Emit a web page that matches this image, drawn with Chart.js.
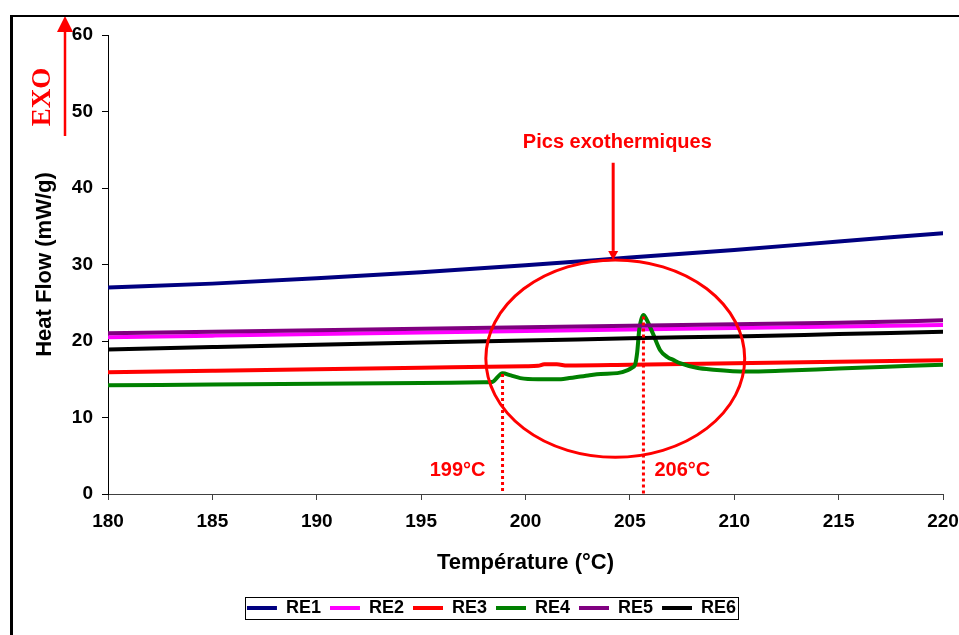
<!DOCTYPE html>
<html>
<head>
<meta charset="utf-8">
<script src="https://cdn.jsdelivr.net/npm/chart.js@4"></script>
<style>
  html, body { margin: 0; padding: 0; background: #fff; }
</style>
</head>
<body>
<canvas id="dscChart" width="959" height="635"></canvas>
<script>
// DSC curves, heat flow (mW/g) vs temperature (°C)
const seriesNames = ['RE1', 'RE2', 'RE3', 'RE4', 'RE5', 'RE6'];
const seriesColors = ['#000080', '#FF00FF', '#FF0000', '#008000', '#800080', '#000000'];

const baseTemps = [180, 185, 190, 195, 200, 205, 210, 215, 220];
const re1 = [27.0, 27.5, 28.2, 29.0, 29.9, 30.9, 31.9, 33.0, 34.1];
const re2 = [20.5, 20.7, 20.9, 21.1, 21.3, 21.5, 21.7, 21.9, 22.1];
const re5 = [21.0, 21.2, 21.4, 21.6, 21.8, 22.0, 22.2, 22.4, 22.7];
const re6 = [18.9, 19.2, 19.5, 19.8, 20.05, 20.35, 20.6, 20.9, 21.2];

const re3Temps = [180, 185, 190, 195, 200, 200.6, 200.9, 201.5, 202, 205, 210, 215, 220];
const re3 = [15.9, 16.1, 16.3, 16.5, 16.7, 16.75, 16.95, 16.95, 16.8, 16.9, 17.1, 17.3, 17.5];

const re4Temps = [180, 185, 190, 195, 198.0, 198.4, 198.9, 199.3, 199.75, 200.6, 201.7, 202.1, 203.0, 203.6,
  204.4, 204.9, 205.1, 205.25, 205.35, 205.45, 205.65, 205.8, 206.1, 206.45, 206.8, 207.1, 207.4, 208.2,
  209.0, 210.6, 212.2, 215, 217, 220];
const re4 = [14.2, 14.3, 14.4, 14.5, 14.6, 14.65, 15.8, 15.5, 15.15, 15.0, 15.0, 15.15, 15.5, 15.7,
  15.8, 16.2, 16.5, 16.9, 18.5, 21.5, 23.4, 22.8, 21.0, 18.8, 17.9, 17.5, 17.1, 16.5,
  16.25, 16.0, 16.1, 16.4, 16.6, 16.9];

// peaks marked on the chart
const peakTemps = [198.9, 205.65];
const peakValues = [15.7, 23.2];
const peakLabels = ['199°C', '206°C'];

const seriesTemps = [baseTemps, baseTemps, re3Temps, re4Temps, baseTemps, baseTemps];
const seriesValues = [re1, re2, re3, re4, re5, re6];

const FONT = "'Liberation Sans', Arial, sans-serif";
const RED = '#FF0000';

function toPoints(xs, ys) {
    return xs.map((x, i) => ({ x: x, y: ys[i] }));
}

const datasets = seriesNames.map((name, i) => ({
    label: name,
    data: toPoints(seriesTemps[i], seriesValues[i]),
    borderColor: seriesColors[i],
    backgroundColor: seriesColors[i],
    borderWidth: 4,
    borderCapStyle: 'round',
    pointRadius: 0,
    cubicInterpolationMode: 'monotone',
    order: seriesNames.length - i
}));

function drawArrow(ctx, x, y1, y2, head, width) {
    // vertical arrow from y1 to tip at y2
    const dir = y2 > y1 ? 1 : -1;
    ctx.beginPath();
    ctx.moveTo(x, y1);
    ctx.lineTo(x, y2 - dir * head);
    ctx.stroke();
    ctx.beginPath();
    ctx.moveTo(x, y2);
    ctx.lineTo(x - width / 2, y2 - dir * head);
    ctx.lineTo(x + width / 2, y2 - dir * head);
    ctx.closePath();
    ctx.fill();
}

const annotationPlugin = {
    id: 'dscNotes',
    afterLayout(chart) {
        // legend sits a little right of centre in the original
        chart.legend.left += 10;
        chart.legend.right += 10;
    },
    afterDatasetsDraw(chart) {
        const ctx = chart.ctx;
        const xs = chart.scales.x, ys = chart.scales.y;
        ctx.save();
        ctx.strokeStyle = RED;
        ctx.fillStyle = RED;

        // circle round the peaks
        const cx = xs.getPixelForValue(204.3), cy = ys.getPixelForValue(17.7);
        const rx = xs.getPixelForValue(204.3 + 6.2) - cx;
        const ry = cy - ys.getPixelForValue(17.7 + 12.9);
        ctx.lineWidth = 3;
        ctx.beginPath();
        ctx.ellipse(cx, cy, rx, ry, 0, 0, Math.PI * 2);
        ctx.stroke();

        // arrow + caption
        const ax = xs.getPixelForValue(204.2);
        ctx.lineWidth = 3;
        drawArrow(ctx, ax, ys.getPixelForValue(43.3), cy - ry, 9, 10);
        ctx.font = 'bold 20px ' + FONT;
        ctx.textAlign = 'center';
        ctx.textBaseline = 'middle';
        ctx.fillText('Pics exothermiques', xs.getPixelForValue(204.4), ys.getPixelForValue(46));

        // dotted drop lines
        ctx.lineWidth = 3;
        ctx.setLineDash([3, 3]);
        peakTemps.forEach((t, i) => {
            const px = xs.getPixelForValue(t);
            ctx.beginPath();
            ctx.moveTo(px, ys.getPixelForValue(peakValues[i]));
            ctx.lineTo(px, ys.getPixelForValue(0));
            ctx.stroke();
        });
        ctx.setLineDash([]);

        ctx.font = 'bold 20px ' + FONT;
        const ly = ys.getPixelForValue(3.1);
        ctx.textAlign = 'right';
        ctx.fillText(peakLabels[0], xs.getPixelForValue(peakTemps[0]) - 17, ly);
        ctx.textAlign = 'left';
        ctx.fillText(peakLabels[1], xs.getPixelForValue(peakTemps[1]) + 11, ly);
        ctx.restore();
    },
    afterDraw(chart) {
        const ctx = chart.ctx;
        const area = chart.chartArea;
        ctx.save();

        // EXO arrow on the left
        ctx.strokeStyle = RED;
        ctx.fillStyle = RED;
        ctx.lineWidth = 2.5;
        drawArrow(ctx, area.left - 43, area.top + 101, area.top - 19, 16, 16);
        ctx.translate(area.left - 65, area.top + 62);
        ctx.rotate(-Math.PI / 2);
        ctx.font = "bold 27px 'Liberation Serif', 'Times New Roman', serif";
        ctx.textAlign = 'center';
        ctx.textBaseline = 'middle';
        ctx.fillText('EXO', 0, 0);
        ctx.setTransform(1, 0, 0, 1, 0, 0);

        // box round the legend
        const boxes = chart.legend.legendHitBoxes;
        if (boxes && boxes.length) {
            const first = boxes[0], last = boxes[boxes.length - 1];
            ctx.strokeStyle = '#000';
            ctx.lineWidth = 1;
            ctx.strokeRect(Math.round(first.left - 2) + 0.5, Math.round(first.top - 2) + 0.5,
                Math.round(last.left + last.width - first.left + 4), Math.round(first.height + 4));
        }

        // outer frame
        ctx.fillStyle = '#000';
        ctx.fillRect(10, 15, 3, chart.height);
        ctx.fillRect(10, 15, chart.width, 2);
        ctx.restore();
    }
};

new Chart(document.getElementById('dscChart'), {
    type: 'line',
    data: { datasets: datasets },
    plugins: [annotationPlugin],
    options: {
        responsive: false,
        animation: false,
        devicePixelRatio: 1,
        layout: { padding: { left: 20, right: 16, top: 35, bottom: 8 } },
        plugins: {
            tooltip: { enabled: false },
            legend: {
                position: 'bottom',
                labels: {
                    usePointStyle: true,
                    pointStyle: 'line',
                    pointStyleWidth: 30,
                    padding: 9,
                    color: '#000',
                    font: { family: FONT, size: 18, weight: 'bold' },
                    sort: (a, b) => a.datasetIndex - b.datasetIndex
                }
            }
        },
        scales: {
            x: {
                type: 'linear',
                min: 180,
                max: 220,
                afterFit: (scale) => {
                    scale.height = 96;
                    scale.paddingLeft = 0;
                    scale.paddingRight = 0;
                },
                ticks: {
                    stepSize: 5,
                    color: '#000',
                    padding: 10,
                    font: { family: FONT, size: 19, weight: 'bold' }
                },
                grid: { drawOnChartArea: false, drawTicks: true, tickLength: 6, color: '#404040' },
                border: { display: true, color: '#404040', width: 1 },
                title: {
                    display: true,
                    text: 'Température (°C)',
                    color: '#000',
                    padding: { top: 0, bottom: 14 },
                    font: { family: FONT, size: 22, weight: 'bold' }
                }
            },
            y: {
                min: 0,
                max: 60,
                afterFit: (scale) => { scale.width = 88; },
                ticks: {
                    stepSize: 10,
                    color: '#000',
                    padding: 9,
                    font: { family: FONT, size: 19, weight: 'bold' }
                },
                grid: { drawOnChartArea: false, drawTicks: true, tickLength: 6, color: '#000' },
                border: { display: true, color: '#000', width: 1 },
                title: {
                    display: true,
                    text: 'Heat Flow (mW/g)',
                    color: '#000',
                    padding: { top: 12, bottom: 0 },
                    font: { family: FONT, size: 22, weight: 'bold' }
                }
            }
        }
    }
});
</script>
</body>
</html>
